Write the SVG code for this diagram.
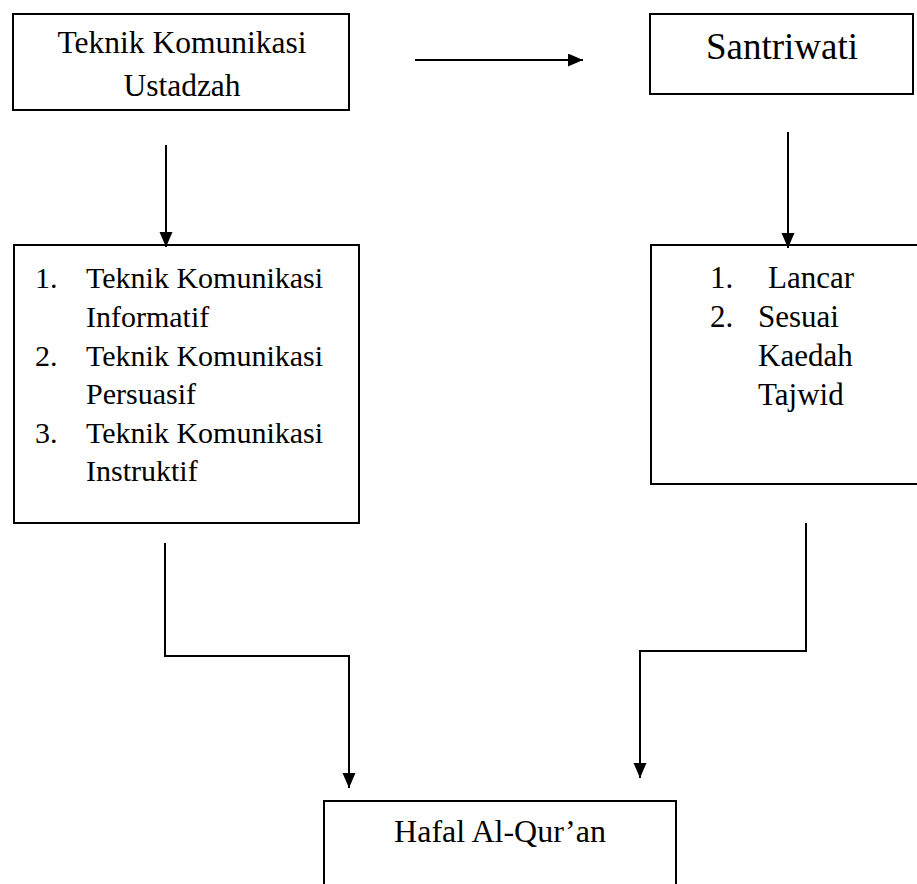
<svg xmlns="http://www.w3.org/2000/svg" width="917" height="884" viewBox="0 0 917 884">
<style>
.box{fill:#fff;stroke:#000;stroke-width:2}
.t{font-family:'Liberation Serif',Tinos,'Times New Roman',Times,serif;fill:#000}
.c{fill:none;stroke:#000;stroke-width:2}
</style>
<defs>
<marker id="ah" markerUnits="userSpaceOnUse" markerWidth="16" markerHeight="14" refX="15" refY="6.5" orient="auto">
<path d="M0,0 L15,6.5 L0,13 Z" fill="#000"/>
</marker>
</defs>
<rect width="917" height="884" fill="#fff"/>
<g id="n1">
<rect class="box" x="13" y="14" width="336" height="96"/>
<text class="t" font-family="Liberation Serif" font-size="31.5" x="182" y="53" text-anchor="middle">Teknik Komunikasi</text>
<text class="t" font-family="Liberation Serif" font-size="31.5" x="182" y="96" text-anchor="middle">Ustadzah</text>
</g>
<g id="n2">
<rect class="box" x="650" y="14" width="263" height="80"/>
<text class="t" font-family="Liberation Serif" font-size="37" x="782" y="59" text-anchor="middle">Santriwati</text>
</g>
<g id="n3">
<rect class="box" x="14" y="245" width="345" height="278"/>
<g class="t" font-family="Liberation Serif" font-size="30">
<text x="35" y="288">1.</text><text x="86" y="288">Teknik Komunikasi</text>
<text x="86" y="327">Informatif</text>
<text x="35" y="365.5">2.</text><text x="86" y="365.5">Teknik Komunikasi</text>
<text x="86" y="404">Persuasif</text>
<text x="35" y="442.5">3.</text><text x="86" y="442.5">Teknik Komunikasi</text>
<text x="86" y="481">Instruktif</text>
</g>
</g>
<g id="n4">
<rect class="box" x="651" y="245" width="280" height="239"/>
<g class="t" font-family="Liberation Serif" font-size="31">
<text x="710" y="288">1.</text><text x="768" y="288">Lancar</text>
<text x="710" y="327">2.</text><text x="758" y="327">Sesuai</text>
<text x="758" y="366">Kaedah</text>
<text x="758" y="405">Tajwid</text>
</g>
</g>
<g id="n5">
<rect class="box" x="324" y="801" width="352" height="100"/>
<text class="t" font-family="Liberation Serif" font-size="32" x="500" y="842" text-anchor="middle">Hafal Al-Qur’an</text>
</g>
<g id="connectors">
<path class="c" d="M415,60 H583" marker-end="url(#ah)"/>
<path class="c" d="M166,145 V247" marker-end="url(#ah)"/>
<path class="c" d="M788,132 V248" marker-end="url(#ah)"/>
<path class="c" d="M165,543 V656 H349 V788" marker-end="url(#ah)"/>
<path class="c" d="M806,523 V651 H640 V778" marker-end="url(#ah)"/>
</g>
</svg>
